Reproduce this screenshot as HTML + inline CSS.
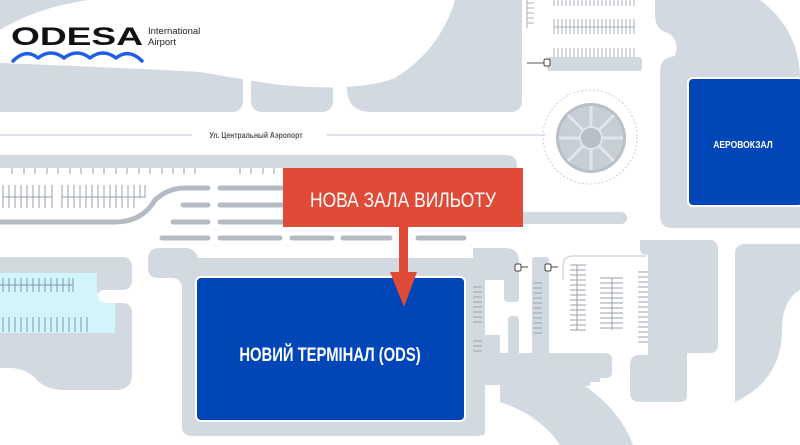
<!DOCTYPE html>
<html><head><meta charset="utf-8"><style>
html,body{margin:0;padding:0;background:#fff;}
svg{display:block;}
</style></head><body>
<svg width="800" height="445" viewBox="0 0 800 445" xmlns="http://www.w3.org/2000/svg" font-family="Liberation Sans, sans-serif">
<g fill="#d3d9e0">
  <path d="M0 0 H243 V100 Q243 112 231 112 H0 Z"/>
  <path d="M251 60 H333 V100 Q333 112 321 112 H263 Q251 112 251 100 Z"/>
  <path d="M347 0 H522 V100 Q522 112 510 112 H372 Q347 112 347 88 Z"/>
</g>
<path d="M88 0 Q35 8 0 30 V63 Q130 68 200 72 Q245 80 280 85 Q360 92 395 78 Q440 50 455 0 Z" fill="#fff"/>
<!-- top parking strips -->
<g stroke="#aab2bb" stroke-width="1">
  <path d="M554 0 V6 M558 0 V6 M562 0 V6 M566 0 V6 M570 0 V6 M574 0 V6 M578 0 V6 M582 0 V6 M586 0 V6 M590 0 V6 M594 0 V6 M598 0 V6 M602 0 V6 M606 0 V6 M610 0 V6 M614 0 V6 M618 0 V6 M622 0 V6 M626 0 V6 M630 0 V6 M634 0 V6"/>
  <path d="M554 19 V34 M558 19 V34 M562 19 V34 M566 19 V34 M570 19 V34 M574 19 V34 M578 19 V34 M582 19 V34 M586 19 V34 M590 19 V34 M594 19 V34 M598 19 V34 M602 19 V34 M606 19 V34 M610 19 V34 M614 19 V34 M618 19 V34 M622 19 V34 M626 19 V34 M630 19 V34 M634 19 V34 M554 27 H635"/>
  <path d="M554 48 V57 M558 48 V57 M562 48 V57 M566 48 V57 M570 48 V57 M574 48 V57 M578 48 V57 M582 48 V57 M586 48 V57 M590 48 V57 M594 48 V57 M598 48 V57 M602 48 V57 M606 48 V57 M610 48 V57 M614 48 V57 M618 48 V57 M622 48 V57 M626 48 V57 M630 48 V57 M634 48 V57"/>
  <path d="M527 0 V28 M527 3 H534 M527 8 H534 M527 13 H534 M527 18 H534 M527 23 H534"/>
</g>
<rect x="547" y="57" width="95" height="14" rx="3" fill="#d3d9e0"/>
<line x1="527" y1="63" x2="544" y2="63" stroke="#555" stroke-width="1"/>
<rect x="544" y="59" width="6" height="7" rx="1.5" fill="#fff" stroke="#444" stroke-width="1"/>
<!-- right top shape -->
<path d="M655 0 H760 Q800 30 800 80 V228 H672 Q660 228 660 215 V70 Q660 58 675 56 Q680 40 668 33 Q655 30 655 15 Z" fill="#d3d9e0"/>
<rect x="688" y="78" width="115" height="128" rx="5" fill="#0046b8" stroke="#fff" stroke-width="2"/>
<text x="743" y="148" fill="#fff" font-size="10" font-weight="bold" text-anchor="middle" transform="translate(743 0) scale(0.85 1) translate(-743 0)">АЕРОВОКЗАЛ</text>
<!-- road line -->
<g stroke="#d3d9e0" stroke-width="1.5">
<line x1="0" y1="135" x2="192" y2="135"/>
<line x1="327" y1="135" x2="545" y2="135"/>
</g>
<text x="256" y="138" fill="#555" font-size="8" font-weight="bold" text-anchor="middle" transform="translate(256 0) scale(0.85 1) translate(-256 0)">Ул. Центральный Аэропорт</text>
<!-- roundabout -->
<circle cx="590" cy="137" r="47" fill="none" stroke="#ccd" stroke-width="1" stroke-dasharray="2 2"/>
<circle cx="591" cy="138" r="35" fill="#b8bfc7"/>
<circle cx="591" cy="138" r="32" fill="#c7ced6"/>
<g stroke="#e2e6ea" stroke-width="3">
<line x1="591" y1="106" x2="591" y2="170"/><line x1="559" y1="138" x2="623" y2="138"/>
<line x1="568" y1="115" x2="614" y2="161"/><line x1="614" y1="115" x2="568" y2="161"/>
</g>
<circle cx="591" cy="138" r="11" fill="#b8bfc7" stroke="#e2e6ea" stroke-width="2"/>
<!-- band -->
<path d="M0 155 H505 Q517 155 517 165 V168 H0 Z" fill="#d3d9e0"/>
<g stroke="#9aa2ab" stroke-width="1">
<path d="M12 168 V174 M24 168 V174 M35 168 V174 M47 168 V174 M58 168 V174 M70 168 V174 M81 168 V174 M93 168 V174 M104 168 V174 M116 168 V174 M127 168 V174 M139 168 V174 M150 168 V174 M162 168 V174 M173 168 V174 M184 168 V174 M195 168 V174 M240 168 V174 M251 168 V174 M263 168 V174 M274 168 V174"/>
<path d="M3 185 V208 M3 197 H52 M9 185 V208 M15 185 V208 M21 185 V208 M27 185 V208 M33 185 V208 M39 185 V208 M45 185 V208 M52 185 V208 M62 185 V208 M62 197 H145 M68 185 V208 M74 185 V208 M80 185 V208 M86 185 V208 M92 185 V208 M98 185 V208 M104 185 V208 M110 185 V208 M116 185 V208 M122 185 V208 M128 185 V208 M134 185 V208 M140 185 V198 M145 185 V198"/>
</g>
<path d="M208 188 H185 Q168 188 155 200 Q142 222 115 222 H0" fill="none" stroke="#b4bbc3" stroke-width="5" stroke-linecap="round"/>
<g stroke="#b4bbc3" stroke-width="5" stroke-linecap="round">
<line x1="220" y1="188" x2="282" y2="188"/>
<line x1="183" y1="205" x2="208" y2="205"/><line x1="220" y1="205" x2="282" y2="205"/>
<line x1="173" y1="222" x2="208" y2="222"/><line x1="220" y1="222" x2="282" y2="222"/>
<line x1="162" y1="238" x2="208" y2="238"/><line x1="220" y1="238" x2="280" y2="238"/>
<line x1="292" y1="238" x2="332" y2="238"/><line x1="343" y1="238" x2="390" y2="238"/><line x1="418" y1="238" x2="464" y2="238"/>
</g>
<rect x="405" y="212" width="222" height="12" rx="6" fill="#d3d9e0"/>
<!-- bottom-left block -->
<path d="M0 257 H122 Q132 257 132 267 V280 Q132 290 122 290 H105 Q97 290 97 298 Q97 303 105 303 H122 Q132 303 132 313 V375 Q132 390 115 390 H65 Q45 390 35 378 Q25 368 10 368 H0 Z" fill="#d3d9e0"/>
<path d="M0 273 H97 V290 Q97 303 105 303 H115 V333 H0 Z" fill="#d2f4fb"/>
<g stroke="#7a9aa8" stroke-width="1">
<path d="M0 285 H73 M3 278 V292 M9 278 V292 M15 278 V292 M21 278 V292 M27 278 V292 M33 278 V292 M39 278 V292 M45 278 V292 M51 278 V292 M57 278 V292 M63 278 V292 M69 278 V292 M73 278 V292"/>
<path d="M3 317 V332 M9 317 V332 M15 317 V332 M21 317 V332 M27 317 V332 M33 317 V332 M39 317 V332 M45 317 V332 M51 317 V332 M57 317 V332 M63 317 V332 M69 317 V332 M75 317 V332 M81 317 V332 M87 317 V332"/>
</g>
<!-- terminal frame -->
<path d="M160 248 H185 Q195 248 198 258 H470 Q485 258 485 270 V433 Q485 436 475 436 H192 Q182 436 182 426 V290 Q182 278 172 278 H158 Q148 278 148 268 V260 Q148 248 160 248 Z" fill="#d3d9e0"/>
<path d="M473 248 H505 Q519 248 519 262 V298 Q519 302 514 302 H508 Q504 302 504 298 V280 H473 Z" fill="#d3d9e0"/>
<path d="M508 320 Q508 316 512 316 H515 Q519 316 519 320 V355 H508 Z" fill="#d3d9e0"/>
<rect x="532" y="257" width="17" height="100" rx="3" fill="#d3d9e0"/>
<rect x="484" y="335" width="16" height="50" fill="#d3d9e0"/>
<path d="M500 353 H605 Q612 353 612 360 V373 Q612 378 605 378 H600 V382 H590 V386 H585 Q620 410 633 445 H560 Q540 415 500 402 Z" fill="#d3d9e0"/>
<path d="M640 240 H710 Q718 240 718 250 V345 Q718 353 710 353 H687 V395 Q687 402 680 402 H640 Q630 402 630 392 V365 Q630 355 640 355 H648 V255 Q640 255 640 248 Z" fill="#d3d9e0"/>
<path d="M745 244 H800 V290 Q782 300 782 330 Q782 380 735 402 V254 Q735 244 745 244 Z" fill="#d3d9e0"/>
<path d="M563 280 V266 Q563 257 572 256 H646" fill="none" stroke="#d3d9e0" stroke-width="1.5"/>
<g stroke="#9aa2ab" stroke-width="1">
<path d="M473 287 H482 M473 292 H482 M473 297 H482 M473 302 H482 M473 307 H482 M473 312 H482 M473 317 H482 M473 322 H482 M473 341 H482 M473 346 H482 M473 351 H482"/>
<path d="M533 283 H542 M533 288 H542 M533 293 H542 M533 298 H542 M533 303 H542 M533 308 H542 M533 313 H542 M533 318 H542 M533 323 H542 M533 328 H542 M533 333 H542"/>
<path d="M577 265 V330 M570 265 H586 M570 270 H586 M570 275 H586 M570 280 H586 M570 285 H586 M570 290 H586 M570 295 H586 M570 300 H586 M570 305 H586 M570 310 H586 M570 315 H586 M570 320 H586 M570 325 H586 M570 330 H586"/>
<path d="M612 278 V330 M600 278 H623 M600 283 H623 M600 288 H623 M600 293 H623 M600 298 H623 M600 303 H623 M600 308 H623 M600 313 H623 M600 318 H623 M600 323 H623 M600 328 H623"/>
<path d="M638 272 H648 M638 277 H648 M638 282 H648 M638 287 H648 M638 292 H648 M638 297 H648 M638 302 H648 M638 307 H648 M638 312 H648 M638 317 H648 M638 322 H648 M638 327 H648 M638 332 H648 M638 337 H648 M638 342 H648"/>
</g>
<g stroke="#444" stroke-width="1" fill="#fff">
<line x1="521" y1="267" x2="528" y2="267"/><rect x="515" y="264" width="6" height="7" rx="1.5"/>
<line x1="551" y1="267" x2="558" y2="267"/><rect x="545" y="264" width="6" height="7" rx="1.5"/>
</g>
<rect x="196" y="277" width="269" height="144" rx="5" fill="#0046b8" stroke="#fff" stroke-width="2"/>
<text x="330" y="361" fill="#fff" font-size="19" font-weight="bold" text-anchor="middle" transform="translate(330 0) scale(0.78 1) translate(-330 0)">НОВИЙ ТЕРМІНАЛ (ODS)</text>
<!-- red callout -->
<rect x="283" y="168" width="240" height="59" fill="#e04b37"/>
<text x="403" y="207" fill="#fff" font-size="21" text-anchor="middle" textLength="186" lengthAdjust="spacingAndGlyphs">НОВА ЗАЛА ВИЛЬОТУ</text>
<rect x="399" y="226" width="9" height="50" fill="#e04b37"/>
<path d="M390 272 H417 L404 307 Z" fill="#e04b37"/>
<!-- logo -->
<text x="11" y="45" font-size="25" font-weight="bold" fill="#111" textLength="132" lengthAdjust="spacingAndGlyphs">ODESA</text>
<text x="148" y="34" font-size="9.5" fill="#222">International</text>
<text x="148" y="45" font-size="9.5" fill="#222">Airport</text>
<path d="M13 61 Q26 48 38 58 Q51 48 64 58 Q77 48 90 58 Q103 48 116 58 Q129 48 142 61" fill="none" stroke="#1e5ee6" stroke-width="3.4" stroke-linecap="round" stroke-linejoin="round"/>
</svg>
</body></html>
